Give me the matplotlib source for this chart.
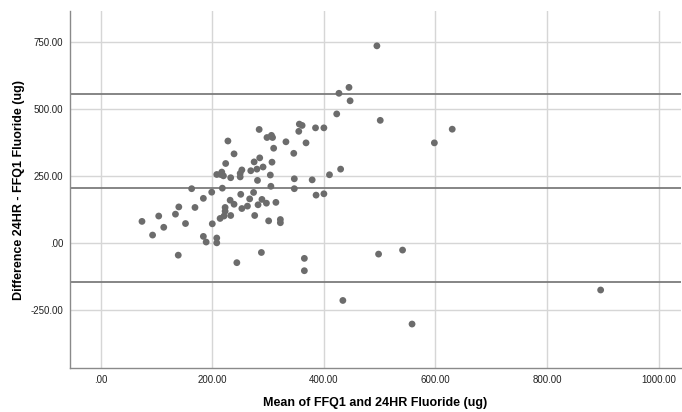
import numpy as np
import matplotlib
matplotlib.use("Agg")
import matplotlib.pyplot as plt
from matplotlib.ticker import FuncFormatter

# Mean of FFQ1 and 24HR (x) and Difference 24HR - FFQ1 (y)
mean_vals = [427, 445, 447, 423, 356, 361, 355, 385, 400, 284,
             298, 306, 308, 332, 368, 228, 310, 239, 346, 285,
             275, 307, 224, 291, 280, 269, 253, 250, 250, 208,
             217, 215, 220, 233, 304, 347, 379, 410, 430, 281,
             305, 163, 199, 218, 347, 251, 274, 386, 400, 184,
             232, 267, 289, 140, 169, 239, 263, 282, 297, 314,
             134, 104, 74, 152, 113, 93, 223, 223, 221, 214,
             233, 253, 276, 301, 322, 322, 200, 184, 189, 208,
             208, 139, 244, 288, 365, 365, 434, 495, 501, 598,
             630, 498, 541, 896, 558]
diff_vals = [559, 581, 531, 482, 444, 439, 417, 430, 430, 424,
             394, 402, 394, 378, 374, 381, 354, 333, 335, 318,
             303, 302, 297, 284, 276, 270, 273, 260, 247, 256,
             265, 256, 251, 244, 254, 240, 236, 255, 276, 234,
             212, 203, 190, 205, 203, 182, 189, 179, 184, 167,
             160, 165, 163, 135, 133, 145, 138, 143, 149, 152,
             108, 101, 81, 73, 59, 30, 133, 119, 101, 92,
             103, 129, 103, 83, 88, 76, 72, 25, 4, 19,
             1, -45, -73, -35, -57, -103, -214, 736, 458, 374,
             425, -41, -26, -175, -302]

# mean difference and limits of agreement
mean_diff = 206
upper_loa = 556
lower_loa = -144

x_ticks = [0, 200, 400, 600, 800, 1000]
y_ticks = [-250, 0, 250, 500, 750]

plt.rcParams['font.family'] = ['Liberation Sans', 'DejaVu Sans']

fig = plt.figure(figsize=(6.82, 4.12), dpi=100)
ax = fig.add_axes([70 / 682, 44 / 412, 611 / 682, 357 / 412])

ax.set_xlim(-55, 1040)
ax.set_ylim(-466, 866)
ax.set_xticks(x_ticks)
ax.set_yticks(y_ticks)

def spss_fmt(v, pos):
    s = f"{v:.2f}"
    if s.startswith("0."):
        s = s[1:]
    return s

ax.xaxis.set_major_formatter(FuncFormatter(spss_fmt))
ax.yaxis.set_major_formatter(FuncFormatter(spss_fmt))

ax.grid(True, color='#d6d6d6', linewidth=1.0)
ax.set_axisbelow(True)

for v in [upper_loa, mean_diff, lower_loa]:
    ax.axhline(v, color='#7c7c7c', linewidth=1.3, zorder=2)

ax.scatter(mean_vals, diff_vals, s=24, color='#6c6c6c', edgecolors='none', zorder=3)

for side in ['top', 'right']:
    ax.spines[side].set_visible(False)
for side in ['left', 'bottom']:
    ax.spines[side].set_color('#8a8a8a')
    ax.spines[side].set_linewidth(1.0)

ax.tick_params(length=0, labelsize=7, labelcolor='#222222', pad=5)

ax.set_xlabel("Mean of FFQ1 and 24HR Fluoride (ug)", fontsize=9, fontweight='bold', labelpad=9)
ax.set_ylabel("Difference 24HR - FFQ1 Fluoride (ug)", fontsize=9, fontweight='bold', labelpad=4)

fig.savefig("out.png", dpi=100)
